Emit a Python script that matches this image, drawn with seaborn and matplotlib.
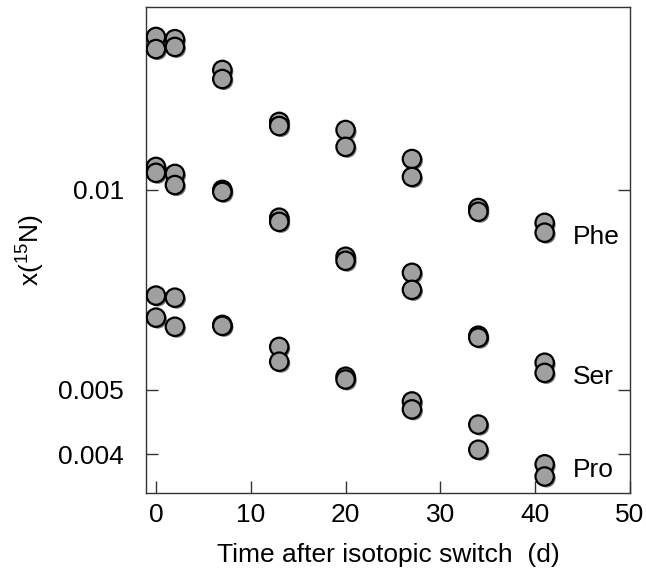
import numpy as np
import pandas as pd
import matplotlib
matplotlib.use("Agg")
import matplotlib.pyplot as plt
import matplotlib.patheffects as pe
from matplotlib.ticker import FixedLocator, FixedFormatter, NullLocator
import seaborn as sns

# ---- data ----
days = [0, 2, 7, 13, 20, 27, 34, 41]
phe_a = [0.01700, 0.01687, 0.01516, 0.01266, 0.01231, 0.01113, 0.00939, 0.00892]
phe_b = [0.01630, 0.01642, 0.01469, 0.01248, 0.01161, 0.01046, 0.00927, 0.00862]
ser_a = [0.01083, 0.01057, 0.01000, 0.00908, 0.00793, 0.00750, 0.00603, 0.00549]
ser_b = [0.01061, 0.01017, 0.00993, 0.00895, 0.00782, 0.00707, 0.00599, 0.00530]
pro_a = [0.00693, 0.00688, 0.00626, 0.00580, 0.00523, 0.00480, 0.00443, 0.00386]
pro_b = [0.00642, 0.00622, 0.00624, 0.00551, 0.00518, 0.00467, 0.00406, 0.00370]
labels = ["Phe", "Ser", "Pro"]
label_y = [0.00850, 0.00523, 0.00379]
ytick_vals = [0.004, 0.005, 0.01]
ytick_labels = ["0.004", "0.005", "0.01"]
xtick_vals = [0, 10, 20, 30, 40, 50]

series = {"Phe": (phe_a, phe_b), "Ser": (ser_a, ser_b), "Pro": (pro_a, pro_b)}
rows = []
for name, (a, b) in series.items():
    for rep, vals in (("a", a), ("b", b)):
        for d, v in zip(days, vals):
            rows.append({"day": d, "x15N": v, "aa": name, "rep": rep})
df = pd.DataFrame(rows)

sns.set_style("white")
plt.rcParams["font.family"] = ["Liberation Sans", "DejaVu Sans"]
plt.rcParams["mathtext.fontset"] = "custom"
plt.rcParams["mathtext.rm"] = "Liberation Sans"
plt.rcParams["mathtext.it"] = "Liberation Sans"
plt.rcParams["text.color"] = "black"
plt.rcParams["axes.labelcolor"] = "black"
plt.rcParams["xtick.color"] = "black"
plt.rcParams["ytick.color"] = "black"

FS = 19

fig = plt.figure(figsize=(6.46, 5.75), dpi=100)
ax = fig.add_axes([146/646, 1-493/575, (630-146)/646, (493-7)/575])

sns.scatterplot(data=df, x="day", y="x15N", ax=ax, color="#a0a0a0",
                edgecolor="black", linewidth=1.6, s=175, legend=False,
                zorder=3)
for coll in ax.collections:
    coll.set_path_effects([pe.SimplePatchShadow(offset=(1.3, -1.3), shadow_rgbFace="black", alpha=0.55),
                           pe.Normal()])

ax.set_yscale("log")
ax.set_xlim(-1.05, 50)
ax.set_ylim(0.003494, 0.01886)

ax.yaxis.set_major_locator(FixedLocator(ytick_vals))
ax.yaxis.set_major_formatter(FixedFormatter(ytick_labels))
ax.yaxis.set_minor_locator(NullLocator())
ax.xaxis.set_major_locator(FixedLocator(xtick_vals))
ax.xaxis.set_minor_locator(NullLocator())

ax.tick_params(axis="both", which="major", direction="in", length=8.5, width=1.0,
               color="#333333", labelsize=FS, labelcolor="black")
ax.tick_params(axis="y", right=True, left=True, pad=16)
ax.tick_params(axis="x", top=False, bottom=True, pad=7)

for sp in ax.spines.values():
    sp.set_visible(True)
    sp.set_color("#333333")
    sp.set_linewidth(1.0)

for lab, yv in zip(labels, label_y):
    ax.text(44.0, yv, lab, fontsize=FS, va="center", ha="left", color="black")

ax.set_xlabel("Time after isotopic switch  (d)", fontsize=FS, labelpad=12, color="black")
ax.set_ylabel(r"x($^{15}$N)", fontsize=FS, labelpad=8, color="black")

fig.savefig("out.png", dpi=100)
